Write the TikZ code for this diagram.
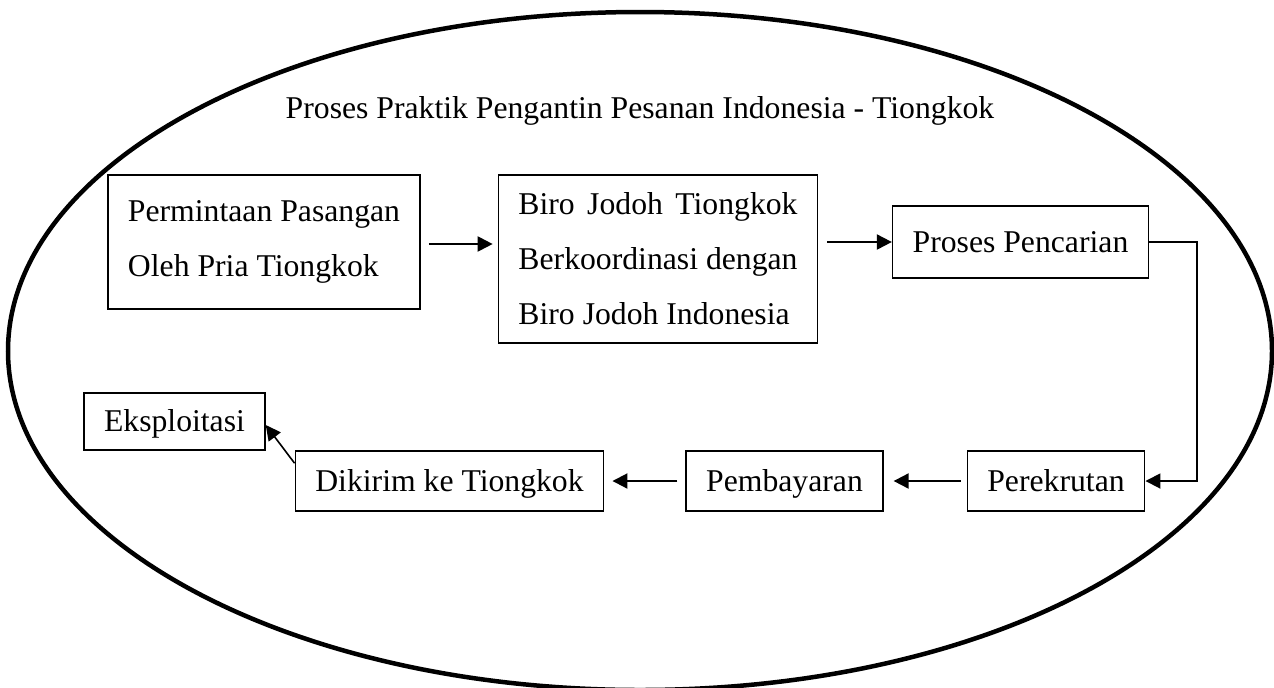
\documentclass[tikz,border=0pt]{standalone}
\usepackage{fontspec}
\setmainfont{Liberation Serif}
\usepackage{calc}
\usetikzlibrary{arrows.meta}

\begin{document}
\begin{tikzpicture}[x=0.5pt,y=-0.5pt,
	kotak/.style={draw, line width=0.8pt, inner xsep=10pt, inner ysep=0pt},
	sebaris/.style={kotak, text height=0.75em, text depth=0.1em},
	panah/.style={-{Triangle[length=7.5pt,width=7.5pt]}, line width=1pt}]
	\fontsize{15.85}{27.5}\selectfont
	\useasboundingbox (0,0) rectangle (1274,687);
	\draw[line width=2.25pt] (640,351) ellipse [x radius=632, y radius=339];
	\node[anchor=base] (judul) at (640,118) {Proses Praktik Pengantin Pesanan Indonesia - Tiongkok};
	
	\node[kotak, align=left, minimum height=67pt] (minta) at (264,242) {Permintaan Pasangan\\Oleh Pria Tiongkok};
	\node[kotak, align=left, minimum height=84pt] (biro) at (658,259) {\makebox[\widthof{Berkoordinasi dengan}][s]{Biro Jodoh Tiongkok}\\Berkoordinasi dengan\\Biro Jodoh Indonesia};
	\node[kotak, minimum height=36pt] (cari) at (1020.5,242) {Proses Pencarian};
	\node[sebaris, minimum height=30pt] (rekrut) at (1056,481) {Perekrutan};
	\node[sebaris, minimum height=30pt] (bayar) at (784.5,481) {Pembayaran};
	\node[sebaris, minimum height=30pt] (kirim) at (449.5,481) {Dikirim ke Tiongkok};
	\node[sebaris, minimum height=28.5pt] (eksp) at (174.5,421.5) {Eksploitasi};
	
	\draw[panah, shorten <=4pt, shorten >=2.5pt] ([yshift=-1pt]minta.east) -- ([yshift=-1pt]minta.east -| biro.west);
	\draw[panah, shorten <=4.5pt] (cari.west -| biro.east) -- (cari.west);
	\draw[panah, line width=0.9pt] (cari.east) -- ++(48,0) |- (rekrut.east);
	\draw[panah, shorten <=3pt, shorten >=5pt] (rekrut.west) -- (bayar.east);
	\draw[panah, shorten <=4pt, shorten >=4pt] (bayar.west) -- (kirim.east);
	\draw[panah, line width=0.8pt] ([yshift=-6.5pt]kirim.north west) -- ([yshift=-1.75pt]eksp.east);
\end{tikzpicture}
\end{document}
